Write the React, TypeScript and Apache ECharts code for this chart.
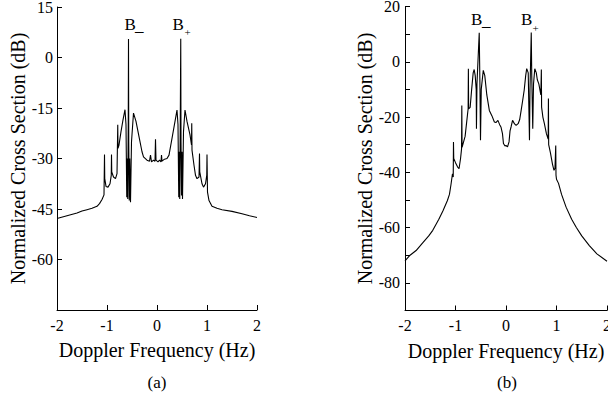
import { useEffect, useRef } from "react";
import * as echarts from "echarts";

// Panel (a): Doppler frequency (Hz) and normalized cross section (dB)
const freqA = [
  -2.0, -1.8, -1.6, -1.5, -1.4, -1.3, -1.2, -1.15, -1.1, -1.06, -1.05, -1.045, -1.02, -0.98, -0.94,
  -0.915, -0.91, -0.905, -0.87, -0.83, -0.8, -0.785, -0.78, -0.76, -0.72, -0.68, -0.64, -0.62,
  -0.605, -0.595, -0.585, -0.575, -0.57, -0.565, -0.555, -0.545, -0.53, -0.51, -0.47, -0.42, -0.36,
  -0.3, -0.27, -0.2, -0.15, -0.13, -0.11, -0.07, -0.04, -0.03, -0.02, 0.02, 0.05, 0.08, 0.09, 0.1,
  0.15, 0.2, 0.24, 0.3, 0.36, 0.4, 0.42, 0.435, 0.445, 0.455, 0.465, 0.475, 0.48, 0.49, 0.5, 0.51,
  0.53, 0.56, 0.6, 0.63, 0.66, 0.69, 0.695, 0.7, 0.74, 0.77, 0.8, 0.84, 0.85, 0.855, 0.9, 0.93,
  0.97, 0.995, 1.0, 1.01, 1.04, 1.1, 1.2, 1.3, 1.5, 1.7, 1.85, 2.0,
];
const dbA = [
  -47.8, -47.0, -46.2, -45.6, -45.2, -44.8, -44.2, -43.4, -42.2, -40.8, -28.8, -36, -38.3, -38.5, -37.5,
  -35, -28.8, -34, -35.5, -36, -34.5, -20, -27, -26, -22, -18.5, -15.5, -20,
  -41.5, -30, -42, -20, 5.5, -25, -42.5, -30, -43, -25, -16.5, -19, -23.5,
  -28, -29.5, -30.5, -30.8, -29, -31, -30.5, -30.8, -24.3, -30.5, -31, -30.5, -31, -29, -30.8,
  -30.2, -30, -29, -24, -19, -15.6, -20, -41.5, -28, -42, -20, 5.6, -25, -41, -28, -42,
  -22, -15.6, -19, -21, -23, -26, -19.5, -27.5, -32, -35, -36, -35.5, -28.5, -34, -37.5, -38.5,
  -37.5, -35, -28.8, -40, -42.5, -44.2, -44.8, -45.2, -45.7, -46.4, -47, -47.5,
];

// Panel (b)
const freqB = [
  -2.0, -1.9, -1.78, -1.65, -1.53, -1.45, -1.33, -1.25, -1.16, -1.12, -1.09, -1.06, -1.045, -1.04,
  -1.035, -1.0, -0.96, -0.93, -0.9, -0.88, -0.875, -0.87, -0.84, -0.81, -0.78, -0.75, -0.745, -0.74,
  -0.71, -0.68, -0.65, -0.63, -0.61, -0.59, -0.585, -0.575, -0.53, -0.515, -0.505, -0.49, -0.45,
  -0.42, -0.38, -0.33, -0.28, -0.23, -0.2, -0.16, -0.12, -0.1, -0.07, -0.05, -0.02, 0, 0.03, 0.06,
  0.08, 0.1, 0.13, 0.17, 0.2, 0.24, 0.27, 0.3, 0.33, 0.36, 0.39, 0.41, 0.44, 0.465, 0.475, 0.5,
  0.51, 0.53, 0.545, 0.57, 0.6, 0.62, 0.65, 0.69, 0.7, 0.705, 0.73, 0.76, 0.8, 0.835, 0.84, 0.845,
  0.88, 0.92, 0.95, 0.97, 0.985, 0.99, 1.0, 1.04, 1.1, 1.19, 1.3, 1.39, 1.5, 1.65, 1.8, 2.0,
];
const dbB = [
  -72, -70, -68.3, -65.5, -63, -61, -57, -54, -50.2, -48, -44.5, -40.5, -41.7, -29,
  -35, -36.5, -38, -38.7, -35, -31.5, -15.8, -31, -29, -27, -22, -17, -2.5, -17,
  -16.5, -10, -4, -2.8, -5, -10, -24.2, -8, 10.5, -10, -28.4, -10, -3.1,
  -5, -12, -17.6, -19.5, -21.8, -22, -21.2, -23, -23.6, -26, -29.6, -30.5, -30.3, -30.8, -29,
  -25, -23.6, -21.2, -22.5, -23, -22.4, -21, -17.6, -14, -10.3, -5, -2.5, -4, -28.4, -10, 10.6,
  -5, -24.2, -8, -2.5, -4, -6.5, -8, -12, -2.8, -16.4, -20, -22.4, -26, -28, -13.3, -30,
  -33, -37, -39.3, -38.5, -30.3, -41, -42.5, -44, -48, -52.6, -57, -59.9, -63, -66.5, -69.5, -72.2,
];

const FONT = "Liberation Serif";

export default function App() {
  const ref = useRef<HTMLDivElement>(null);
  useEffect(() => {
    const chart = echarts.init(ref.current!, null, { renderer: "svg" });
    const axisLine = { show: true, onZero: false, lineStyle: { color: "#000", width: 1 } };
    const axisTick = { show: true, inside: true, length: 5, lineStyle: { color: "#000", width: 1 } };
    const labelStyle = { color: "#000", fontFamily: FONT, fontSize: 16 };
    const nameStyle = { color: "#000", fontFamily: FONT, fontSize: 20 };
    const xAxisBase = (gi: number) => ({
      type: "value",
      gridIndex: gi,
      min: -2,
      max: 2,
      interval: 1,
      name: "Doppler Frequency (Hz)",
      nameLocation: "middle",
      nameGap: 30,
      nameTextStyle: nameStyle,
      axisLine,
      axisTick,
      axisLabel: { ...labelStyle, margin: 7 },
      splitLine: { show: false },
    });
    const yName = "Normalized Cross Section (dB)";
    const txt = (text: string, x: number, y: number, size: number, align = "left") => ({
      type: "text",
      x,
      y,
      style: { text, fontFamily: FONT, fontSize: size, fill: "#000", align, verticalAlign: "middle" },
    });
    chart.setOption({
      animation: false,
      backgroundColor: "#fff",
      textStyle: { fontFamily: FONT },
      grid: [
        { left: 57, top: 7, width: 200, height: 303, containLabel: false, outerBoundsMode: "none" },
        { left: 405, top: 6.5, width: 202, height: 304, containLabel: false, outerBoundsMode: "none" },
      ],
      xAxis: [xAxisBase(0), xAxisBase(1)],
      yAxis: [
        {
          type: "value",
          gridIndex: 0,
          min: -75,
          max: 15,
          interval: 15,
          name: yName,
          nameLocation: "middle",
          nameGap: 28,
          nameTextStyle: nameStyle,
          axisLine,
          axisTick,
          axisLabel: { ...labelStyle, margin: 4, formatter: (v: number) => (v === -75 ? "" : String(v)) },
          splitLine: { show: false },
        },
        {
          type: "value",
          gridIndex: 1,
          min: -90,
          max: 20,
          interval: 10,
          name: yName,
          nameLocation: "middle",
          nameGap: 28,
          nameTextStyle: nameStyle,
          axisLine,
          axisTick,
          axisLabel: { ...labelStyle, margin: 5, formatter: (v: number) => (v % 20 === 0 ? String(v) : "") },
          splitLine: { show: false },
        },
      ],
      series: [
        {
          type: "line",
          xAxisIndex: 0,
          yAxisIndex: 0,
          data: freqA.map((f, i) => [f, dbA[i]]),
          showSymbol: false,
          silent: true,
          lineStyle: { color: "#000", width: 1.1 },
        },
        {
          type: "line",
          xAxisIndex: 1,
          yAxisIndex: 1,
          data: freqB.map((f, i) => [f, dbB[i]]),
          showSymbol: false,
          silent: true,
          lineStyle: { color: "#000", width: 1.1 },
        },
      ],
      graphic: [
        txt("B", 124.5, 24, 17),
        txt("_", 135, 25, 17),
        txt("B", 172.5, 24, 17),
        txt("+", 184.5, 32, 11),
        txt("B", 471, 19.5, 17),
        txt("_", 482, 20.5, 17),
        txt("B", 521, 19.5, 17),
        txt("+", 532.5, 27.5, 11),
        txt("(a)", 157, 382, 17, "center"),
        txt("(b)", 507, 382, 17, "center"),
      ],
    });
    return () => chart.dispose();
  }, []);
  return (
    <div
      ref={ref}
      style={{ position: "fixed", left: 0, top: 0, width: 608, height: 400, background: "#fff" }}
    />
  );
}
